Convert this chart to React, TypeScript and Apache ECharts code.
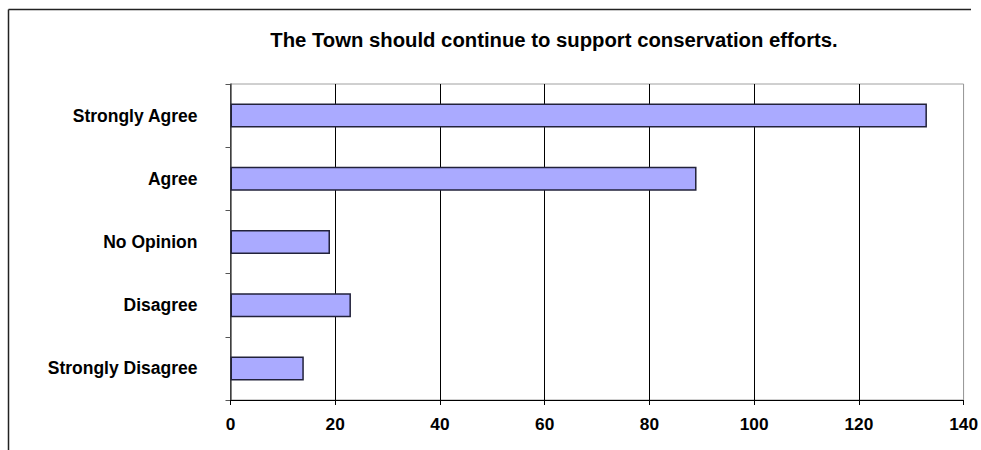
import React, { useEffect, useRef } from "react";
import * as echarts from "echarts";

const titleText = "The Town should continue to support conservation efforts.";
const categories = ["Strongly Agree", "Agree", "No Opinion", "Disagree", "Strongly Disagree"];
const counts = [133, 89, 19, 23, 14];
const xTicks = [0, 20, 40, 60, 80, 100, 120, 140];

const FONT = "'Liberation Sans', Arial, Helvetica, sans-serif";

export default function App() {
  const ref = useRef<HTMLDivElement>(null);
  useEffect(() => {
    if (!ref.current) return;
    const chart = echarts.init(ref.current, undefined, { renderer: "svg" });
    const splitColors = xTicks.map((_, i) => (i === xTicks.length - 1 ? "#9a9a9a" : "#000000"));
    chart.setOption({
      animation: false,
      backgroundColor: "#ffffff",
      textStyle: { fontFamily: FONT },
      graphic: [
        {
          type: "line",
          shape: { x1: 8.5, y1: 9.5, x2: 971, y2: 9.5 },
          style: { stroke: "#222222", lineWidth: 1.5 },
        },
        {
          type: "line",
          shape: { x1: 8.5, y1: 9.5, x2: 8.5, y2: 450 },
          style: { stroke: "#222222", lineWidth: 1.5 },
        },
        {
          type: "text",
          x: 554,
          y: 39.5,
          style: {
            text: titleText,
            fontFamily: FONT,
            fontWeight: "bold",
            fontSize: 20.3,
            fill: "#000000",
            textAlign: "center",
            textVerticalAlign: "middle",
          },
        },
      ],
      grid: {
        left: 230.5,
        right: 16,
        top: 84,
        bottom: 50,
        show: true,
        backgroundColor: "#ffffff",
        borderColor: "#a0a0a0",
        borderWidth: 1,
      },
      xAxis: {
        type: "value",
        min: 0,
        max: 140,
        interval: 20,
        axisLine: { show: true, lineStyle: { color: "#000000", width: 1 } },
        axisTick: { show: true, length: 5, lineStyle: { color: "#000000" } },
        splitLine: { show: true, lineStyle: { color: splitColors, width: 1 } },
        axisLabel: {
          color: "#000000",
          fontWeight: "bold",
          fontSize: 17.3,
          fontFamily: FONT,
          margin: 15,
        },
      },
      yAxis: {
        type: "category",
        data: categories,
        inverse: true,
        axisLine: { show: true, lineStyle: { color: "#555555", width: 1.5 } },
        axisTick: { show: true, length: 5, alignWithLabel: false, lineStyle: { color: "#555555" } },
        splitLine: { show: false },
        axisLabel: {
          color: "#000000",
          fontWeight: "bold",
          fontSize: 17.5,
          fontFamily: FONT,
          margin: 33,
          padding: [0, 0, 5, 0],
        },
      },
      series: [
        {
          type: "bar",
          data: counts,
          barWidth: 24,
          itemStyle: { color: "#aaaaff", borderColor: "#22223a", borderWidth: 1.5 },
        },
      ],
    });
    return () => chart.dispose();
  }, []);
  return (
    <div
      ref={ref}
      style={{ position: "fixed", left: 0, top: 0, width: 981, height: 450 }}
    />
  );
}
